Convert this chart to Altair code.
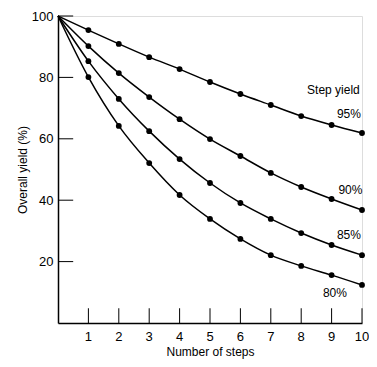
import altair as alt
import pandas as pd

steps = [0, 1, 2, 3, 4, 5, 6, 7, 8, 9, 10]
y95 = [100, 95.4, 90.9, 86.6, 82.7, 78.5, 74.6, 71.0, 67.4, 64.5, 61.9]
y90 = [100, 90.2, 81.4, 73.6, 66.4, 59.9, 54.4, 48.9, 44.3, 40.4, 36.8]
y85 = [100, 85.3, 73.0, 62.5, 53.4, 45.6, 39.1, 33.9, 29.3, 25.4, 22.1]
y80 = [100, 80.1, 64.2, 52.1, 41.7, 33.9, 27.4, 22.1, 18.6, 15.6, 12.4]

series = {"95%": y95, "90%": y90, "85%": y85, "80%": y80}
rows = []
for name, vals in series.items():
    for s, v in zip(steps, vals):
        rows.append({"series": name, "step": s, "yield": v})
df = pd.DataFrame(rows)

label_text = ["Step yield", "95%", "90%", "85%", "80%"]
label_x = [9.06, 9.57, 9.62, 9.57, 9.11]
label_y = [75.9, 68.1, 43.3, 28.7, 9.8]
labels = pd.DataFrame({"text": label_text, "x": label_x, "y": label_y})

x_ticks = [1, 2, 3, 4, 5, 6, 7, 8, 9, 10]
y_ticks = [20, 40, 60, 80, 100]

FONT = "Liberation Sans"

xs = alt.Scale(domain=[0, 10], nice=False, zero=False)
ys = alt.Scale(domain=[0, 100], nice=False)

xaxis = alt.Axis(values=x_ticks, ticks=False, grid=False, domainColor="black",
                 domainWidth=1.5, labels=False,
                 title="Number of steps", titleFont=FONT,
                 titleFontSize=12, titleFontWeight="normal", titleColor="black",
                 titlePadding=23)
yaxis = alt.Axis(values=y_ticks, ticks=False, grid=False, domainColor="black",
                 domainWidth=1.5, labelColor="black", labelFontSize=13, labelFont=FONT,
                 labelPadding=5, labelOverlap=False, labelFlush=False,
                 title="Overall yield (%)", titleFont=FONT,
                 titleFontSize=12, titleFontWeight="normal", titleColor="black",
                 titlePadding=2)

base = alt.Chart(df)

lines = base.mark_line(color="black", strokeWidth=1.5, interpolate="monotone").encode(
    x=alt.X("step:Q", scale=xs, axis=xaxis),
    y=alt.Y("yield:Q", scale=ys, axis=yaxis),
    detail="series:N",
)
points = base.transform_filter("datum.step > 0").mark_circle(
    color="black", opacity=1, size=34
).encode(x=alt.X("step:Q", scale=xs, axis=xaxis), y=alt.Y("yield:Q", scale=ys, axis=yaxis))

tickdf = pd.DataFrame({"step": x_ticks})
xt = alt.Chart(tickdf).mark_rule(color="black", strokeWidth=1).encode(
    x=alt.X("step:Q", scale=xs, axis=xaxis), y=alt.datum(0), y2=alt.datum(4.8)
)
xlab = alt.Chart(tickdf).mark_text(
    font=FONT, fontSize=13, color="black", baseline="top", dy=8
).encode(
    x=alt.X("step:Q", scale=xs, axis=xaxis), y=alt.datum(0), text=alt.Text("step:Q")
)
yt = alt.Chart(pd.DataFrame({"yield": y_ticks})).mark_rule(color="black", strokeWidth=1).encode(
    y=alt.Y("yield:Q", scale=ys, axis=yaxis), x=alt.datum(0), x2=alt.datum(0.5)
)

txt = alt.Chart(labels).mark_text(font=FONT, fontSize=12, color="black").encode(
    x=alt.X("x:Q", scale=xs, axis=xaxis), y=alt.Y("y:Q", scale=ys, axis=yaxis), text="text:N"
)

chart = alt.layer(lines, points, xt, xlab, yt, txt).properties(
    width=304, height=307,
    autosize=alt.AutoSizeParams(type="none"),
    padding={"left": 50, "top": 8, "right": 7, "bottom": 44},
).configure_view(stroke=None).configure(background="white")

chart.save("out.html", embed_options={"renderer": "svg", "actions": False})
